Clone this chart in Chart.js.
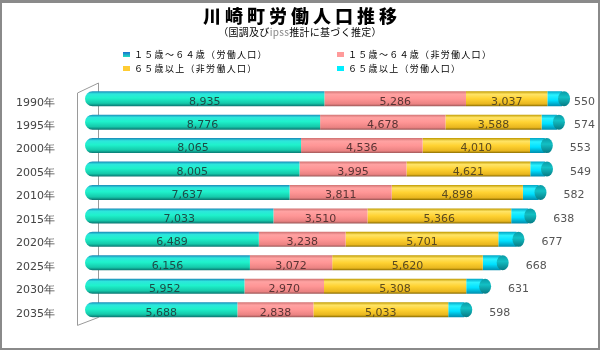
<!DOCTYPE html>
<html>
<head>
<meta charset="utf-8">
<script src="https://cdn.jsdelivr.net/npm/chart.js@4"></script>
<style>
  body { margin: 0; background: #fff; }
  #wrap { position: relative; width: 600px; height: 350px; overflow: hidden; font-family: "Noto Sans CJK JP", sans-serif; }
  #frame { position: absolute; left: 0; top: 0; width: 596px; height: 345px; border: 2px solid #8a8a8a; border-top-width: 3px; pointer-events: none; }
  canvas { position: absolute; left: 0; top: 0; }
  .title { position: absolute; left: 0; width: 600px; text-align: center; color: #000; }
  .leg { position: absolute; font-size: 9px; letter-spacing: 1.3px; line-height: 10px; color: #000; white-space: nowrap; }
  .leg i { display: inline-block; width: 7px; height: 5px; margin-right: 4px; vertical-align: 1px; }
</style>
</head>
<body>
<div id="wrap">
  <canvas id="chart" width="600" height="350"></canvas>
  <div class="title" style="top:2px;font-size:18px;font-weight:900;letter-spacing:4px;padding-left:4px;box-sizing:border-box;">川崎町労働人口推移</div>
  <div class="title" style="top:24px;font-size:10px;letter-spacing:0.3px;">（国調及び<span style="color:#888">ipss</span>推計に基づく推定）</div>
  <div class="leg" style="left:123px;top:50px;"><i style="background:linear-gradient(#1a6fd0,#20e0c0)"></i>１５歳～６４歳（労働人口）</div>
  <div class="leg" style="left:337px;top:50px;"><i style="background:#ff9a9a"></i>１５歳～６４歳（非労働人口）</div>
  <div class="leg" style="left:123px;top:64px;"><i style="background:#ffcc33"></i>６５歳以上（非労働人口）</div>
  <div class="leg" style="left:337px;top:64px;"><i style="background:#00eeff"></i>６５歳以上（労働人口）</div>
  <div id="frame"></div>
</div>
<script>
const years = ["1990年", "1995年", "2000年", "2005年", "2010年", "2015年", "2020年", "2025年", "2030年", "2035年"];
const workAge = [8935, 8776, 8065, 8005, 7637, 7033, 6489, 6156, 5952, 5688];
const nonWorkAge = [5286, 4678, 4536, 3995, 3811, 3510, 3238, 3072, 2970, 2838];
const elderNonWork = [3037, 3588, 4010, 4621, 4898, 5366, 5701, 5620, 5308, 5033];
const elderWork = [550, 574, 553, 549, 582, 638, 677, 668, 631, 598];

const barPct = 0.64;

// cylinder-like vertical gradient for each bar
function cylinder(stops) {
  return (ctx) => {
    const chart = ctx.chart;
    if (!chart.chartArea || ctx.dataIndex === undefined) return stops[2][1];
    const y = chart.scales.y.getPixelForValue(ctx.dataIndex);
    const h = chart.scales.y.height / years.length * barPct / 2;
    const g = chart.ctx.createLinearGradient(0, y - h, 0, y + h);
    stops.forEach(s => g.addColorStop(s[0], s[1]));
    return g;
  };
}

const tealStops = [[0, "#1a88b8"], [0.18, "#2de6dc"], [0.45, "#1ff2cc"], [0.8, "#15c9aa"], [1, "#0a7470"]];
const pinkStops = [[0, "#d07272"], [0.2, "#ffa2a2"], [0.5, "#ff9696"], [0.85, "#ea8282"], [1, "#9a5656"]];
const yellowStops = [[0, "#c09a00"], [0.2, "#ffe466"], [0.5, "#ffd232"], [0.85, "#e8b61e"], [1, "#866a00"]];
const cyanStops = [[0, "#00a4c4"], [0.25, "#2af2ff"], [0.6, "#00e0ff"], [1, "#008cac"]];

// 3D wall edges, end caps and value labels
const decor = {
  id: "decor",
  beforeDatasetsDraw(chart) {
    const { ctx, chartArea: a } = chart;
    ctx.save();
    ctx.strokeStyle = "#9a9a9a";
    ctx.lineWidth = 1;
    ctx.beginPath();
    ctx.moveTo(a.left - 7.5, a.top + 6);
    ctx.lineTo(a.left + 13.5, a.top - 4);
    ctx.lineTo(a.left + 13.5, a.bottom - 4);
    ctx.lineTo(a.left - 7.5, a.bottom + 4);
    ctx.closePath();
    ctx.stroke();
    ctx.restore();
  },
  afterDatasetsDraw(chart) {
    const { ctx } = chart;
    const last = chart.getDatasetMeta(3).data;
    ctx.save();
    last.forEach((bar) => {
      const h = bar.height / 2;
      const g = ctx.createLinearGradient(0, bar.y - h, 0, bar.y + h);
      g.addColorStop(0, "#0a9aa6");
      g.addColorStop(0.4, "#12c0c4");
      g.addColorStop(1, "#067a84");
      ctx.fillStyle = g;
      ctx.beginPath();
      ctx.ellipse(bar.x + 2, bar.y, 6, h, 0, 0, Math.PI * 2);
      ctx.fill();
    });
    ctx.font = "11px 'DejaVu Sans'";
    ctx.textBaseline = "middle";
    const labelColors = ["#1d4a48", "#5a3434", "#5a4a20"];
    [0, 1, 2].forEach((di) => {
      const vals = chart.data.datasets[di].data;
      chart.getDatasetMeta(di).data.forEach((bar, i) => {
        ctx.fillStyle = labelColors[di];
        ctx.textAlign = "center";
        ctx.fillText(vals[i].toLocaleString("en-US"), (bar.x + bar.base) / 2, bar.y + 3);
      });
    });
    ctx.fillStyle = "#555";
    ctx.textAlign = "left";
    last.forEach((bar, i) => {
      ctx.fillText(elderWork[i].toLocaleString("en-US"), Math.min(bar.x + 25, 574), bar.y + 3);
    });
    ctx.restore();
  }
};

const common = { borderWidth: 0, borderSkipped: false, barPercentage: barPct, categoryPercentage: 1 };

new Chart(document.getElementById("chart").getContext("2d"), {
  type: "bar",
  data: {
    labels: years,
    datasets: [
      { label: "１５歳～６４歳（労働人口）", data: workAge, backgroundColor: cylinder(tealStops),
        borderRadius: { topLeft: 8, bottomLeft: 8, topRight: 0, bottomRight: 0 }, ...common },
      { label: "１５歳～６４歳（非労働人口）", data: nonWorkAge, backgroundColor: cylinder(pinkStops), ...common },
      { label: "６５歳以上（非労働人口）", data: elderNonWork, backgroundColor: cylinder(yellowStops), ...common },
      { label: "６５歳以上（労働人口）", data: elderWork, backgroundColor: cylinder(cyanStops), ...common }
    ]
  },
  options: {
    indexAxis: "y",
    responsive: false,
    animation: false,
    devicePixelRatio: 1,
    layout: { padding: { top: 87, right: 6, bottom: 19, left: 0 } },
    plugins: {
      legend: { display: false },
      title: { display: false },
      tooltip: { enabled: false }
    },
    scales: {
      x: { stacked: true, min: 0, max: 19000, display: false },
      y: {
        stacked: true,
        grid: { display: false },
        border: { display: false },
        ticks: { color: "#444", font: { family: "'DejaVu Sans'", size: 11 }, padding: 22, labelOffset: 4 },
        afterFit(scale) { scale.width = 85; }
      }
    }
  },
  plugins: [decor]
});
</script>
</body>
</html>
